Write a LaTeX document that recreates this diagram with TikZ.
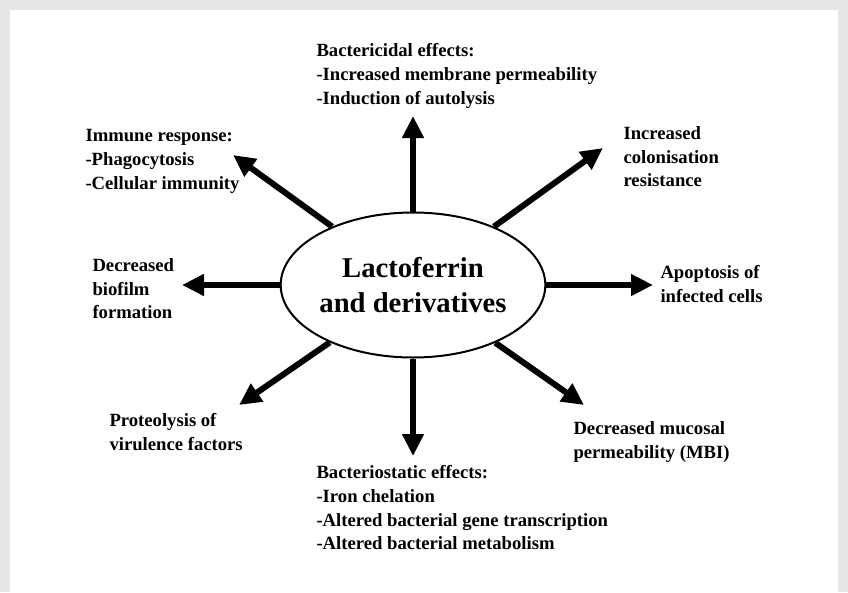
\documentclass[tikz,border=0pt]{standalone}
\usepackage{fontspec}
\setmainfont{Liberation Serif}
\usetikzlibrary{shapes.geometric,arrows.meta}

\definecolor{framegray}{RGB}{230,230,230}

\tikzset{every picture/.style={line width=0.75pt}}
\tikzset{
  lbl/.style={anchor=north west, inner sep=0pt, align=left,
    font=\fontsize{14}{17.8}\selectfont\bfseries},
  bigarr/.style={line width=4.5pt, -{Triangle[length=16.5pt,width=15.5pt]}}
}

\begin{document}
\begin{tikzpicture}[x=0.75pt,y=0.75pt,yscale=-1,xscale=1]
%frame of the page
\fill [framegray] (0,0) rectangle (848,592);
\fill [white] (10,10) rectangle (838,592);
\useasboundingbox (0,0) rectangle (848,592);

%Ellipse [id:lf]
\draw (413,285) node [ellipse, draw, line width=1.5pt, minimum width=195pt, minimum height=108.75pt, inner sep=0pt, align=center, font=\fontsize{21.5}{26}\selectfont\bfseries] (lf) {Lactoferrin\\and derivatives};

%Arrow tips
\coordinate (tipN) at (413,116);
\coordinate (tipS) at (413,456);
\coordinate (tipW) at (182,285);
\coordinate (tipE) at (653,285);
\coordinate (tipNW) at (233,155);
\coordinate (tipNE) at (603,148);
\coordinate (tipSW) at (239,405);
\coordinate (tipSE) at (584,405);

%Straight Lines
\draw [bigarr] (lf) -- (tipN);
\draw [bigarr] (lf) -- (tipS);
\draw [bigarr] (lf) -- (tipW);
\draw [bigarr] (lf) -- (tipE);
\draw [bigarr] (lf) -- (tipNW);
\draw [bigarr] (lf) -- (tipNE);
\draw [bigarr] (lf) -- (tipSW);
\draw [bigarr] (lf) -- (tipSE);

% Text Node
\draw (316,43) node [lbl] (bactc) {Bactericidal effects:\\-Increased membrane permeability\\-Induction of autolysis};
% Text Node
\draw (85,129) node [lbl] (immune) {Immune response:\\-Phagocytosis\\-Cellular immunity};
% Text Node
\draw (623,126) node [lbl] (colon) {Increased\\colonisation\\resistance};
% Text Node
\draw (92,258) node [lbl] (biofilm) {Decreased\\biofilm\\formation};
% Text Node
\draw (660,265) node [lbl] (apopt) {Apoptosis of\\infected cells};
% Text Node
\draw (109,413) node [lbl] (proteo) {Proteolysis of\\virulence factors};
% Text Node
\draw (573,421) node [lbl] (mucosal) {Decreased mucosal\\permeability (MBI)};
% Text Node
\draw (316,465) node [lbl] (bacts) {Bacteriostatic effects:\\-Iron chelation\\-Altered bacterial gene transcription\\-Altered bacterial metabolism};

\end{tikzpicture}
\end{document}
